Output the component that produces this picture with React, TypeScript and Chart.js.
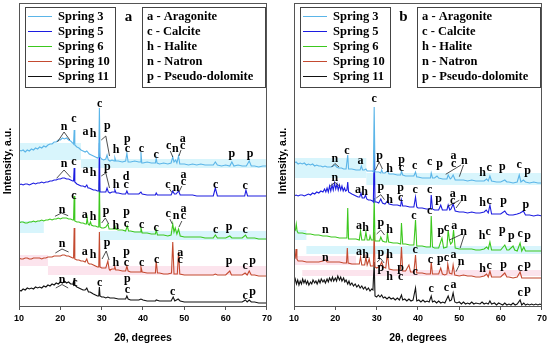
import React, { useEffect, useRef } from 'react';
import { Chart, registerables } from 'chart.js';
Chart.register(...registerables);

type P = [number, number];
type Lbl = [number, number, string];
type Seg = [number, number, number, number];
type Band = [number, number, number, number, string];

const X_MIN = 10;
const X_MAX = 70;
const X_STEP = 10;
const Y_MIN = 0;
const Y_MAX = 303;

const SERIES_NAMES = ['Spring 3', 'Spring 5', 'Spring 6', 'Spring 10', 'Spring 11'];
const SERIES_COLORS = ['#5bb5e8', '#1c1ce0', '#3cc81e', '#c44a30', '#111111'];
const PHASES = ['a - Aragonite', 'c - Calcite', 'h - Halite', 'n - Natron', 'p - Pseudo-dolomite'];

const CYAN = '#d8f5fc';
const PINK = '#fce4ed';

// ---------- Panel a ----------
const A_S3: P[] = [[10,156],[10.5,155],[11,156],[11.5,154],[12,156],[12.5,155],[13,157],[13.5,156],[14,158],[14.5,157],[15,159],[15.5,158],[16,160],[16.5,159],[17,161],[17.5,162],[18,162],[18.5,164],[19,164],[19.5,166],[20,166],[20.5,168],[21,167],[21.5,168],[22,166],[22.5,165],[23,163],[23.2,162],[23.35,176],[23.5,161],[24,159],[24.5,158],[25,156],[25.5,155],[26,154],[26.4,155],[27,152],[27.5,151],[28,150],[28.5,149],[29,148],[29.3,149],[29.45,198],[29.6,149],[30,147],[30.5,146],[31,147],[31.3,151],[31.6,146],[32,145],[32.5,146],[33,145],[33.2,148],[33.4,145],[34,145],[35,144],[35.8,145],[36.1,153],[36.4,144],[37,144],[38,145],[39,144],[39.3,144],[39.5,154],[39.7,143],[40,143],[41,144],[42,143],[43,143],[43.2,148],[43.4,143],[44,142],[45,143],[46,142],[46.8,143],[47.2,149],[47.5,144],[47.9,146],[48.2,143],[48.6,150],[48.9,142],[50,142],[51,141],[52,142],[53,141],[54,142],[55,141],[56,141],[57,141],[57.5,144],[58,141],[59,140],[60,141],[61,140],[61.5,144],[62,140],[63,141],[64,140],[65,140],[65.7,145],[66.2,140],[67,140],[68,139],[69,140],[70,140]];
const A_S5: P[] = [[10,121],[10.5,122],[11,121],[11.5,122],[12,122],[12.5,121],[13,122],[13.5,123],[14,122],[14.5,123],[15,123],[15.5,124],[16,123],[16.5,124],[17,124],[17.5,125],[18,125],[18.5,126],[19,126],[19.5,127],[20,127],[20.5,128],[21,128],[21.5,127],[22,127],[22.5,126],[23,125],[23.2,125],[23.35,138],[23.5,124],[24,122],[24.5,121],[25,120],[25.5,120],[26,119],[26.4,121],[26.7,118],[27,118],[27.5,117],[28,116],[28.5,116],[29,115],[29.3,115],[29.45,163],[29.6,114],[30,114],[30.5,114],[31,114],[31.3,118],[31.6,114],[32,113],[32.5,114],[33,114],[33.2,116],[33.5,113],[34,113],[35,112],[35.8,112],[36.1,115],[36.4,112],[37,112],[38,112],[39,112],[39.5,114],[39.8,112],[40,112],[41,111],[42,111],[43,111],[43.2,113],[43.5,111],[44,111],[45,111],[46,111],[46.8,111],[47.2,115],[47.6,112],[48,112],[48.6,115],[49,111],[50,111],[51,111],[52,111],[53,110],[54,110],[55,110],[56,110],[57,110],[57.5,118],[58,110],[59,110],[60,110],[61,110],[62,110],[63,110],[64,110],[64.6,110],[64.9,116],[65.3,110],[66,110],[67,110],[68,110],[69,110],[70,110]];
const A_S6: P[] = [[10,83],[10.5,84],[11,84],[11.5,83],[12,83],[12.5,84],[13,84],[13.5,85],[14,84],[14.5,85],[15,85],[15.5,86],[16,85],[16.5,86],[17,86],[17.5,87],[18,86],[18.5,87],[19,87],[19.5,88],[20,87],[20.5,88],[21,88],[21.5,88],[22,87],[22.5,87],[23,86],[23.2,86],[23.35,110],[23.5,85],[24,84],[24.5,84],[25,83],[25.5,83],[26,82],[26.3,82],[26.5,88],[26.7,82],[27,81],[27.3,84],[27.5,81],[28,80],[28.5,80],[29,79],[29.3,79],[29.45,126],[29.6,79],[30,78],[30.5,78],[31,79],[31.5,82],[31.8,77],[32,77],[32.5,77],[33,77],[33.15,81],[33.4,77],[34,76],[35,76],[35.8,75],[36.2,80],[36.5,75],[37,75],[38,74],[39,74],[39.3,74],[39.5,78],[39.8,73],[40,73],[41,73],[42,72],[43,72],[43.2,76],[43.5,71],[44,71],[45,71],[46,70],[46.8,71],[47.2,82],[47.5,74],[47.8,78],[48.2,72],[48.6,77],[49,70],[50,69],[51,69],[52,69],[53,69],[54,69],[55,68],[56,68],[57,68],[57.5,71],[58,68],[59,68],[60,68],[61,70],[61.5,68],[62,68],[63,68],[64,68],[64.8,71],[65.2,68],[66,68],[67,68],[68,67],[69,67],[70,67]];
const A_S10: P[] = [[10,48],[10.5,47],[11,47],[11.5,48],[12,48],[12.5,47],[13,47],[13.5,48],[14,48],[14.5,48],[15,48],[15.5,47],[16,48],[16.5,48],[17,49],[17.5,49],[18,49],[18.5,50],[19,50],[19.5,50],[20,50],[20.5,51],[21,51],[21.5,50],[22,50],[22.5,49],[23,48],[23.2,48],[23.35,78],[23.5,47],[24,46],[24.5,46],[25,45],[25.5,45],[26,44],[26.4,47],[26.7,43],[27,42],[27.5,42],[28,41],[28.5,40],[29,39],[29.3,39],[29.45,74],[29.6,39],[30,38],[30.5,38],[31,38],[31.5,45],[31.8,37],[32,36],[32.5,37],[33,37],[33.15,40],[33.4,36],[34,36],[35,35],[35.8,35],[36.1,40],[36.4,35],[37,34],[38,34],[39,34],[39.3,34],[39.5,39],[39.8,34],[40,34],[41,33],[42,33],[43,33],[43.2,45],[43.5,33],[44,33],[45,32],[46,32],[46.9,33],[47.2,64],[47.5,32],[48,32],[48.3,32],[48.6,54],[48.9,32],[50,31],[51,31],[52,31],[53,31],[54,31],[55,31],[56,31],[57,31],[57.5,32],[58,31],[59,31],[60,31],[61,35],[61.4,31],[62,31],[63,31],[64,31],[64.7,33],[65.2,31],[65.7,35],[66.2,31],[67,31],[68,30],[69,30],[70,30]];
const A_S11: P[] = [[10,16],[10.5,15],[11,17],[11.5,16],[12,18],[12.5,17],[13,18],[13.5,17],[14,19],[14.5,18],[15,19],[15.5,18],[16,20],[16.5,19],[17,21],[17.5,20],[18,22],[18.5,21],[19,23],[19.5,22],[20,24],[20.5,23],[21,25],[21.5,23],[22,24],[22.5,22],[23,22],[23.2,21],[23.35,28],[23.5,21],[24,19],[24.5,18],[25,17],[25.5,16],[26,16],[26.4,18],[26.8,14],[27.2,14],[27.6,13],[28,12],[28.5,11],[29,10],[29.3,10],[29.45,19],[29.6,10],[30,9],[30.5,9],[31,8],[31.5,9],[32,8],[33,8],[34,7],[35,7],[35.8,7],[36.1,10],[36.4,7],[37,6],[38,6],[39,6],[39.5,7],[40,6],[41,5],[42,5],[43,5],[43.2,6],[44,5],[45,5],[46,5],[46.8,5],[47.3,9],[47.7,5],[48.5,7],[49,5],[50,4],[51,4],[52,4],[53,4],[54,4],[55,4],[56,4],[57,4],[58,4],[59,4],[60,4],[61,4],[62,4],[63,4],[64,4],[64.8,6],[65.2,4],[65.7,6],[66.2,4],[67,4],[68,3],[69,3],[70,3]];

const A_LABELS: Lbl[] = [
  [20.9,178.7,'n'],[23.3,186.7,'c'],[26.1,174.3,'a'],[27.9,172.7,'h'],[29.5,202,'c'],[31.4,178.7,'p'],[33.5,156.7,'h'],[36.2,166,'p'],[36.2,156.7,'c'],[39.6,156.7,'c'],[43.2,151,'c'],[46.2,160,'c'],[47.8,156.7,'n'],[49.6,166.7,'a'],[49.6,159.5,'c'],[61.5,151,'p'],[65.9,151,'p'],
  [20.9,142,'n'],[23.3,144.3,'c'],[26.1,136,'a'],[27.9,134.3,'h'],[31.4,137.7,'p'],[33.5,121.7,'h'],[35.9,130,'d'],[35.9,121,'c'],[46.0,121.3,'c'],[48.0,118,'n'],[49.8,131,'a'],[49.8,124,'c'],[57.6,121.3,'c'],[64.7,119.7,'c'],
  [20.4,96.3,'n'],[23.3,109.7,'c'],[25.9,91.3,'a'],[27.9,89.7,'h'],[31.1,93.7,'p'],[33.4,81.3,'h'],[36.0,93,'p'],[36.0,82.3,'c'],[39.7,81.3,'c'],[43.2,78,'c'],[46.1,92.3,'c'],[48.0,89.7,'n'],[49.8,97.3,'a'],[49.8,89.7,'c'],[57.6,76.3,'c'],[60.8,78,'p'],[64.7,76.3,'c'],
  [20.4,62,'n'],[25.9,53.7,'a'],[27.9,52,'h'],[31.3,61.3,'p'],[33.4,43.7,'h'],[36.0,52.3,'p'],[36.0,43,'c'],[39.7,43,'c'],[43.3,46.3,'c'],[49.0,53,'a'],[49.0,45.7,'c'],[60.8,43.7,'p'],[64.7,40.3,'c'],[66.5,43.7,'p'],
  [20.4,25.7,'n'],[23.5,23,'c'],[29.5,23,'c'],[36.2,25.3,'p'],[36.2,16.3,'c'],[47.2,14,'c'],[64.7,10.3,'c'],[66.5,13,'p'],
];
const A_SEGS: Seg[] = [
  [19.3,164,20.9,174],[20.9,174,22.3,166],[29.9,166,31.0,170],[31.0,170,31.9,150],[46.6,155,47.2,149],[49.2,156,48.7,150],
  [19.1,127.7,20.9,136],[20.9,136,22.5,128.7],[29.9,130,31.0,133],[31.0,133,31.9,118],[46.4,117,47.0,113.5],[49.4,120,48.7,114],
  [18.7,89.7,20.3,93],[20.3,93,21.9,90.3],[30.0,83,30.9,88],[30.9,88,31.7,82],[46.5,87,47.1,82],[49.4,85,48.7,79],
  [18.8,53,20.4,57],[20.4,57,22.0,54],[30.1,47,31.1,55],[31.1,55,31.8,46],
  [18.9,18,20.4,21.5],[20.4,21.5,21.9,18],
];
const A_BANDS: Band[] = [
  [10,25,146,163,CYAN],[25,70,138,147,CYAN],[10,16,73,85,CYAN],[29.5,70,66,75,CYAN],[10,17,40,51,PINK],[17,70,31,40,PINK],
];

// ---------- Panel b ----------
const B_S3: P[] = [[10,143],[10.5,144],[11,142],[11.5,143],[12,142],[12.5,143],[13,141],[13.5,142],[14,141],[14.5,142],[15,140],[15.5,141],[16,140],[16.5,140],[17,139],[17.5,140],[18,139],[18.5,139],[19,139],[19.5,140],[19.9,141],[20.3,139],[20.8,138],[21.5,138],[22,137],[22.6,137],[22.8,137],[23,151],[23.2,137],[24,137],[25,136],[26,136],[26.3,140],[26.6,136],[27,136],[27.4,137],[27.7,135],[28,135],[29,135],[29.2,134],[29.4,199],[29.6,134],[30,134],[30.5,134],[31,133],[31.2,136],[31.5,133],[32,133],[32.6,135],[33,132],[34,132],[35,131],[35.8,131],[36,135],[36.3,131],[37,130],[38,130],[39,130],[39.4,134],[39.7,129],[40,129],[41,128],[42,128],[43,128],[43.2,133],[43.5,128],[44,128],[44.6,130],[45,128],[46,127],[47,127],[47.3,131],[47.8,127],[48.1,128],[48.5,131],[49,126],[50,126],[51,126],[52,125],[53,126],[54,125],[55,125],[56,125],[56.6,127],[57,125],[57.4,130],[57.8,125],[59,124],[60,124],[61,126],[61.5,124],[62,124],[63,123],[64,124],[64.5,131],[64.9,124],[65.5,126],[66,124],[67,123],[68,124],[69,123],[70,123]];
const B_S5: P[] = [[10,110],[10.5,111],[11,110],[11.5,111],[12,111],[12.5,110],[13,111],[13.5,112],[14,111],[14.5,113],[15,112],[15.5,114],[16,113],[16.5,115],[17,114],[17.4,117],[17.7,114],[18,118],[18.3,114],[18.6,120],[18.9,115],[19.2,121],[19.5,116],[19.8,123],[20.1,117],[20.4,122],[20.7,116],[21,121],[21.3,116],[21.6,120],[21.9,115],[22.2,118],[22.5,115],[22.8,116],[23,124],[23.2,114],[24,112],[24.5,111],[25,110],[25.5,109],[25.9,109],[26.2,113],[26.5,108],[27,108],[27.3,111],[27.6,107],[28,106],[28.5,106],[29,105],[29.2,104],[29.4,156],[29.6,104],[30,104],[30.5,103],[31,107],[31.4,103],[32,102],[32.6,105],[33,102],[34,101],[35,101],[35.8,100],[36,106],[36.3,100],[37,100],[38,99],[39,99],[39.4,109],[39.7,99],[40,98],[41,98],[42,97],[43,97],[43.2,111],[43.5,97],[44,96],[45,96],[45.5,101],[45.9,96],[46.5,96],[47,96],[47.3,101],[47.7,96],[48,97],[48.5,102],[49,95],[50,94],[51,94],[52,93],[53,94],[54,93],[55,93],[56,94],[56.5,96],[57,93],[57.4,101],[57.8,92],[59,92],[60,92],[61,95],[61.5,92],[62,91],[63,91],[64,92],[64.7,93],[65.5,95],[66,91],[67,91],[68,90],[69,91],[70,90]];
const B_S6: P[] = [[10,74],[10.35,76],[10.55,82],[10.75,75],[11,73],[12,73],[13,72],[14,72],[15,71],[16,71],[17,70],[18,70],[19,69],[20,69],[21,68],[22,68],[22.8,68],[23,98],[23.2,67],[24,67],[25,67],[25.8,66],[26.1,75],[26.4,66],[27.1,66],[27.4,74],[27.7,66],[28.2,66],[28.4,70],[28.7,66],[29.2,66],[29.4,108],[29.6,65],[30,65],[30.7,65],[31,69],[31.4,65],[32,64],[32.4,64],[32.6,73],[32.9,64],[34,63],[35,63],[35.8,62],[36,83],[36.3,62],[37,62],[38,61],[39,61],[39.4,86],[39.7,60],[40,60],[41,60],[42,59],[43,59],[43.2,90],[43.5,59],[44,58],[45,58],[45.8,68],[46.2,58],[47,59],[47.3,76],[47.6,66],[47.9,62],[48.3,64],[48.6,76],[49,58],[50,57],[51,57],[52,57],[53,57],[54,56],[55,56],[56,57],[56.6,59],[57,57],[57.4,64],[57.8,56],[59,56],[60,56],[61,61],[61.5,56],[62,56],[63,60],[63.4,56],[64,55],[64.7,63],[65.1,55],[65.6,59],[66,55],[67,55],[68,55],[69,55],[70,55]];
const B_S10: P[] = [[10,49],[10.3,48],[10.5,57],[10.7,47],[11,45],[12,45],[13,44],[14,44],[15,44],[16,44],[17,45],[17.6,46],[18,44],[19,44],[20,44],[21,44],[22,43],[22.7,43],[22.9,58],[23.1,43],[24,42],[25,42],[25.8,42],[26.1,49],[26.4,41],[27.1,41],[27.4,49],[27.7,41],[28.2,47],[28.5,40],[29.2,40],[29.4,74],[29.6,39],[30,38],[30.8,40],[31.2,44],[31.6,39],[32.2,38],[32.6,53],[33,37],[34,36],[35,36],[35.7,36],[36,59],[36.3,35],[37,35],[37.8,41],[38.2,34],[39,34],[39.4,51],[39.7,33],[40,33],[41,33],[42,32],[43,32],[43.2,44],[43.5,32],[44,32],[45,32],[45.5,38],[45.9,32],[46.5,31],[47,32],[47.2,42],[47.6,33],[48.2,32],[48.5,41],[48.9,31],[50,30],[51,31],[52,30],[53,30],[54,29],[55,29],[56,30],[56.6,32],[57,29],[57.4,35],[57.8,29],[59,29],[60,29],[61,33],[61.5,29],[62,29],[63,28],[64,29],[64.7,34],[65.1,28],[66,28],[67,28],[68,28],[69,28],[70,28]];
const B_S11: P[] = [[10,23],[10.3,27],[10.6,22],[10.9,26],[11.2,21],[11.5,25],[11.8,22],[12.1,27],[12.4,23],[12.7,26],[13,22],[13.3,25],[13.6,21],[14,24],[14.3,22],[14.6,26],[15,23],[15.3,25],[15.6,22],[16,26],[16.3,23],[16.6,27],[17,24],[17.3,26],[17.6,23],[18,27],[18.3,24],[18.6,28],[19,25],[19.3,29],[19.6,25],[20,28],[20.3,25],[20.6,30],[21,26],[21.3,29],[21.6,25],[22,28],[22.3,24],[22.6,26],[23,22],[23.3,25],[23.6,21],[24,23],[24.4,20],[24.8,22],[25.2,19],[25.6,21],[26,18],[26.4,20],[26.8,17],[27.2,19],[27.6,16],[28,18],[28.4,15],[28.8,17],[29.1,16],[29.4,44],[29.6,10],[30,9],[30.4,11],[30.8,9],[31.2,11],[31.6,8],[32,9],[32.5,7],[33,9],[33.5,7],[34,8],[34.5,6],[35,8],[35.5,6],[36,11],[36.3,6],[36.8,7],[37.3,5],[37.8,7],[38.3,5],[38.8,6],[39.4,18],[39.7,5],[40.2,6],[40.7,4],[41.2,6],[41.7,4],[42.2,5],[42.7,4],[43.2,10],[43.5,4],[44,5],[44.5,3],[45,5],[45.5,3],[46,4],[46.5,3],[47.3,10],[47.7,5],[48.1,6],[48.5,13],[48.9,4],[49.4,3],[50,4],[50.5,2],[51,4],[51.5,2],[52,3],[52.5,2],[53,4],[53.5,2],[54,3],[55,2],[55.5,4],[56,2],[56.5,3],[57,2],[57.4,5],[57.8,2],[58.5,3],[59,1],[59.5,3],[60,2],[60.5,1],[61,3],[61.5,1],[62,2],[62.5,1],[63,3],[63.5,1],[64,2],[64.7,6],[65.1,1],[65.6,3],[66,1],[66.5,2],[67,1],[67.5,2],[68,1],[68.5,2],[69,1],[69.5,2],[70,1]];

const B_LABELS: Lbl[] = [
  [29.4,207,'c'],[19.9,146.5,'n'],[22.8,155,'c'],[26.1,145,'a'],[30.7,148.3,'p'],[33.1,137.7,'h'],[36.0,145,'p'],[36.0,137.7,'c'],[39.2,139.5,'c'],[42.8,144.3,'c'],[45.2,140.3,'p'],[48.6,150.3,'a'],[48.6,141.7,'c'],[51.2,145,'n'],[55.6,133.7,'h'],[57.2,137.7,'c'],[60.4,137.7,'p'],[64.5,141,'c'],[66.5,133.7,'p'],
  [19.9,128,'n'],[25.5,116.3,'a'],[27.1,114.7,'h'],[31.0,118,'p'],[33.1,107,'h'],[35.8,117,'p'],[35.8,108,'c'],[39.3,115.7,'c'],[42.8,116.3,'c'],[45.0,105.7,'p'],[48.4,112.3,'a'],[48.4,104.7,'c'],[51.0,108,'n'],[55.6,103.7,'h'],[57.2,104.7,'c'],[60.7,103.7,'p'],[66.1,99.7,'p'],
  [17.6,75.7,'n'],[25.7,80.3,'a'],[27.3,79,'h'],[31.0,81.3,'p'],[33.1,77,'h'],[39.0,90,'c'],[42.8,95,'c'],[45.5,73.3,'p'],[46.9,78,'c'],[48.8,80,'a'],[51.0,74.3,'n'],[55.5,71,'h'],[57.0,74.3,'c'],[60.4,74.3,'p'],[62.6,68.7,'p'],[64.7,72,'c'],[66.5,68.7,'p'],
  [17.6,48,'n'],[25.7,53.7,'a'],[27.3,52,'h'],[31.0,52,'p'],[33.1,52,'h'],[39.3,56,'c'],[43.0,46,'c'],[45.4,45.3,'p'],[46.9,47.7,'c'],[48.6,51,'a'],[50.4,44.3,'n'],[55.6,37.7,'h'],[57.2,40,'c'],[60.7,39.3,'p'],[64.7,37.7,'c'],[66.5,39.3,'p'],
  [31.0,36.3,'p'],[33.1,30.3,'h'],[35.8,36.3,'p'],[35.8,29,'c'],[39.3,33.7,'c'],[43.2,16.7,'c'],[46.9,18.3,'c'],[48.6,21,'a'],[64.7,12.7,'c'],[66.5,14.3,'p'],
];
const B_SEGS: Seg[] = [
  [19.1,139,19.9,142.5],[19.9,142.5,20.9,139],[29.7,136,30.6,144],[30.6,144,31.4,137],[50.4,141,46.7,131.7],[51.0,141,50.0,129.3],
  [18.7,119.7,19.9,123.7],[19.9,123.7,21.1,119.7],[29.9,108,31.0,111.3],[31.0,111.3,31.9,106.3],[50.0,105.7,47.2,99.7],[50.4,104.7,49.2,98],
  [30.0,72,31.0,76],[31.0,76,31.9,71],[50.7,72,47.6,66],[51.2,71,50.2,58],
  [30.1,44,31.0,47.5],[31.0,47.5,31.8,43],[50.0,41,49.2,34.3],
];
const B_BANDS: Band[] = [
  [10,27.5,128,148,CYAN],[27.5,70,121,133,CYAN],[10,13,66,76,CYAN],[13,70,52,60,CYAN],[10,25,41,50,PINK],[12,70,30,36,PINK],
];

interface Panel {
  letter: string;
  series: P[][];
  labels: Lbl[];
  segs: Seg[];
  bands: Band[];
}

const PANELS: Panel[] = [
  { letter: 'a', series: [A_S3, A_S5, A_S6, A_S10, A_S11], labels: A_LABELS, segs: A_SEGS, bands: A_BANDS },
  { letter: 'b', series: [B_S3, B_S5, B_S6, B_S10, B_S11], labels: B_LABELS, segs: B_SEGS, bands: B_BANDS },
];

const SERIF = '"Liberation Serif", "Times New Roman", serif';
const SANS = '"Liberation Sans", Arial, sans-serif';

function letterOffset(t: string): number {
  if (t === 'p') return 1.5;
  if (t === 'h' || t === 'd') return 4;
  return 2.8;
}

function makePlugin(panel: Panel) {
  return {
    id: 'panelDeco',
    beforeDatasetsDraw(chart: any) {
      const { ctx, chartArea: a, scales } = chart;
      const x = scales.x, y = scales.y;
      ctx.save();
      ctx.beginPath();
      ctx.rect(a.left, a.top, a.right - a.left, a.bottom - a.top);
      ctx.clip();
      for (const [x0, x1, y0, y1, c] of panel.bands) {
        const px0 = x.getPixelForValue(x0), px1 = x.getPixelForValue(x1);
        const py0 = y.getPixelForValue(y1), py1 = y.getPixelForValue(y0);
        ctx.fillStyle = c;
        ctx.fillRect(px0, py0, px1 - px0, py1 - py0);
      }
      ctx.restore();
    },
    afterDraw(chart: any) {
      const { ctx, chartArea: a, scales } = chart;
      const x = scales.x, y = scales.y;
      ctx.save();
      ctx.strokeStyle = '#222';
      ctx.lineWidth = 0.8;
      for (const [x1, y1, x2, y2] of panel.segs) {
        ctx.beginPath();
        ctx.moveTo(x.getPixelForValue(x1), y.getPixelForValue(y1));
        ctx.lineTo(x.getPixelForValue(x2), y.getPixelForValue(y2));
        ctx.stroke();
      }
      ctx.fillStyle = '#000';
      ctx.font = `bold 12px ${SERIF}`;
      ctx.textAlign = 'center';
      ctx.textBaseline = 'alphabetic';
      for (const [lx, ly, t] of panel.labels) {
        ctx.fillText(t, x.getPixelForValue(lx), y.getPixelForValue(ly) + letterOffset(t));
      }
      ctx.strokeStyle = '#555';
      ctx.lineWidth = 1;
      ctx.strokeRect(a.left + 0.5, a.top + 0.5, a.right - a.left - 1, a.bottom - a.top);
      ctx.fillStyle = '#fff';
      ctx.fillRect(25.5, 7.5, 90, 80);
      ctx.strokeStyle = '#444';
      ctx.strokeRect(25.5, 7.5, 90, 80);
      ctx.font = `bold 12.5px ${SERIF}`;
      ctx.textAlign = 'left';
      ctx.textBaseline = 'middle';
      SERIES_NAMES.forEach((name, i) => {
        const ry = 16.5 + i * 15;
        ctx.strokeStyle = SERIES_COLORS[i];
        ctx.lineWidth = 1;
        ctx.beginPath();
        ctx.moveTo(28, ry);
        ctx.lineTo(52, ry);
        ctx.stroke();
        ctx.fillStyle = '#000';
        ctx.fillText(name, 58, ry + 0.5);
      });
      ctx.font = `bold 15px ${SERIF}`;
      ctx.textAlign = 'center';
      ctx.fillText(panel.letter, 128.5, 17.5);
      ctx.fillStyle = '#fff';
      ctx.fillRect(142.5, 7.5, 123, 80);
      ctx.strokeStyle = '#444';
      ctx.strokeRect(142.5, 7.5, 123, 80);
      ctx.fillStyle = '#000';
      ctx.font = `bold 12.5px ${SERIF}`;
      ctx.textAlign = 'left';
      PHASES.forEach((ph, i) => {
        ctx.fillText(ph, 147, 17 + i * 15);
      });
      ctx.save();
      ctx.translate(8, 161);
      ctx.rotate(-Math.PI / 2);
      ctx.font = `bold 10.5px ${SANS}`;
      ctx.textAlign = 'center';
      ctx.textBaseline = 'middle';
      ctx.fillText('Intensity, a.u.', 0, 0);
      ctx.restore();
      ctx.restore();
    },
  };
}

function PanelChart({ panel, left }: { panel: Panel; left: number }) {
  const ref = useRef<HTMLCanvasElement | null>(null);
  useEffect(() => {
    if (!ref.current) return;
    const chart = new Chart(ref.current, {
      type: 'line',
      data: {
        datasets: panel.series.map((s, i) => ({
          label: SERIES_NAMES[i],
          data: s.map(([px, py]) => ({ x: px, y: py })),
          borderColor: SERIES_COLORS[i],
          borderWidth: 1.1,
          pointRadius: 0,
          tension: 0,
          fill: false,
        })),
      },
      options: {
        animation: false,
        responsive: false,
        maintainAspectRatio: false,
        layout: { padding: { top: 3, right: 7, left: 19, bottom: 0 } },
        plugins: { legend: { display: false }, tooltip: { enabled: false } },
        scales: {
          x: {
            type: 'linear',
            min: X_MIN,
            max: X_MAX,
            ticks: { stepSize: X_STEP, color: '#000', font: { family: SANS, size: 9, weight: 'bold' }, padding: 3, maxRotation: 0 },
            grid: { display: true, drawOnChartArea: false, drawTicks: true, tickLength: 4, color: '#555' },
            border: { display: true, color: '#555' },
            title: { display: true, text: '2θ, degrees', color: '#000', font: { family: SANS, size: 10.5, weight: 'bold' }, padding: { top: 0, bottom: 2 } },
            afterFit: (s: any) => { s.height = 40; },
          },
          y: {
            type: 'linear',
            display: false,
            min: Y_MIN,
            max: Y_MAX,
          },
        },
      } as any,
      plugins: [makePlugin(panel)],
    });
    return () => chart.destroy();
  }, [panel]);
  return (
    <canvas
      ref={ref}
      width={275}
      height={346}
      style={{ position: 'absolute', left, top: 0, width: 275, height: 346 }}
    />
  );
}

export default function App() {
  return (
    <div style={{ position: 'fixed', left: 0, top: 0, width: 550, height: 346, background: '#fff', overflow: 'hidden' }}>
      <PanelChart panel={PANELS[0]} left={0} />
      <PanelChart panel={PANELS[1]} left={275} />
    </div>
  );
}
